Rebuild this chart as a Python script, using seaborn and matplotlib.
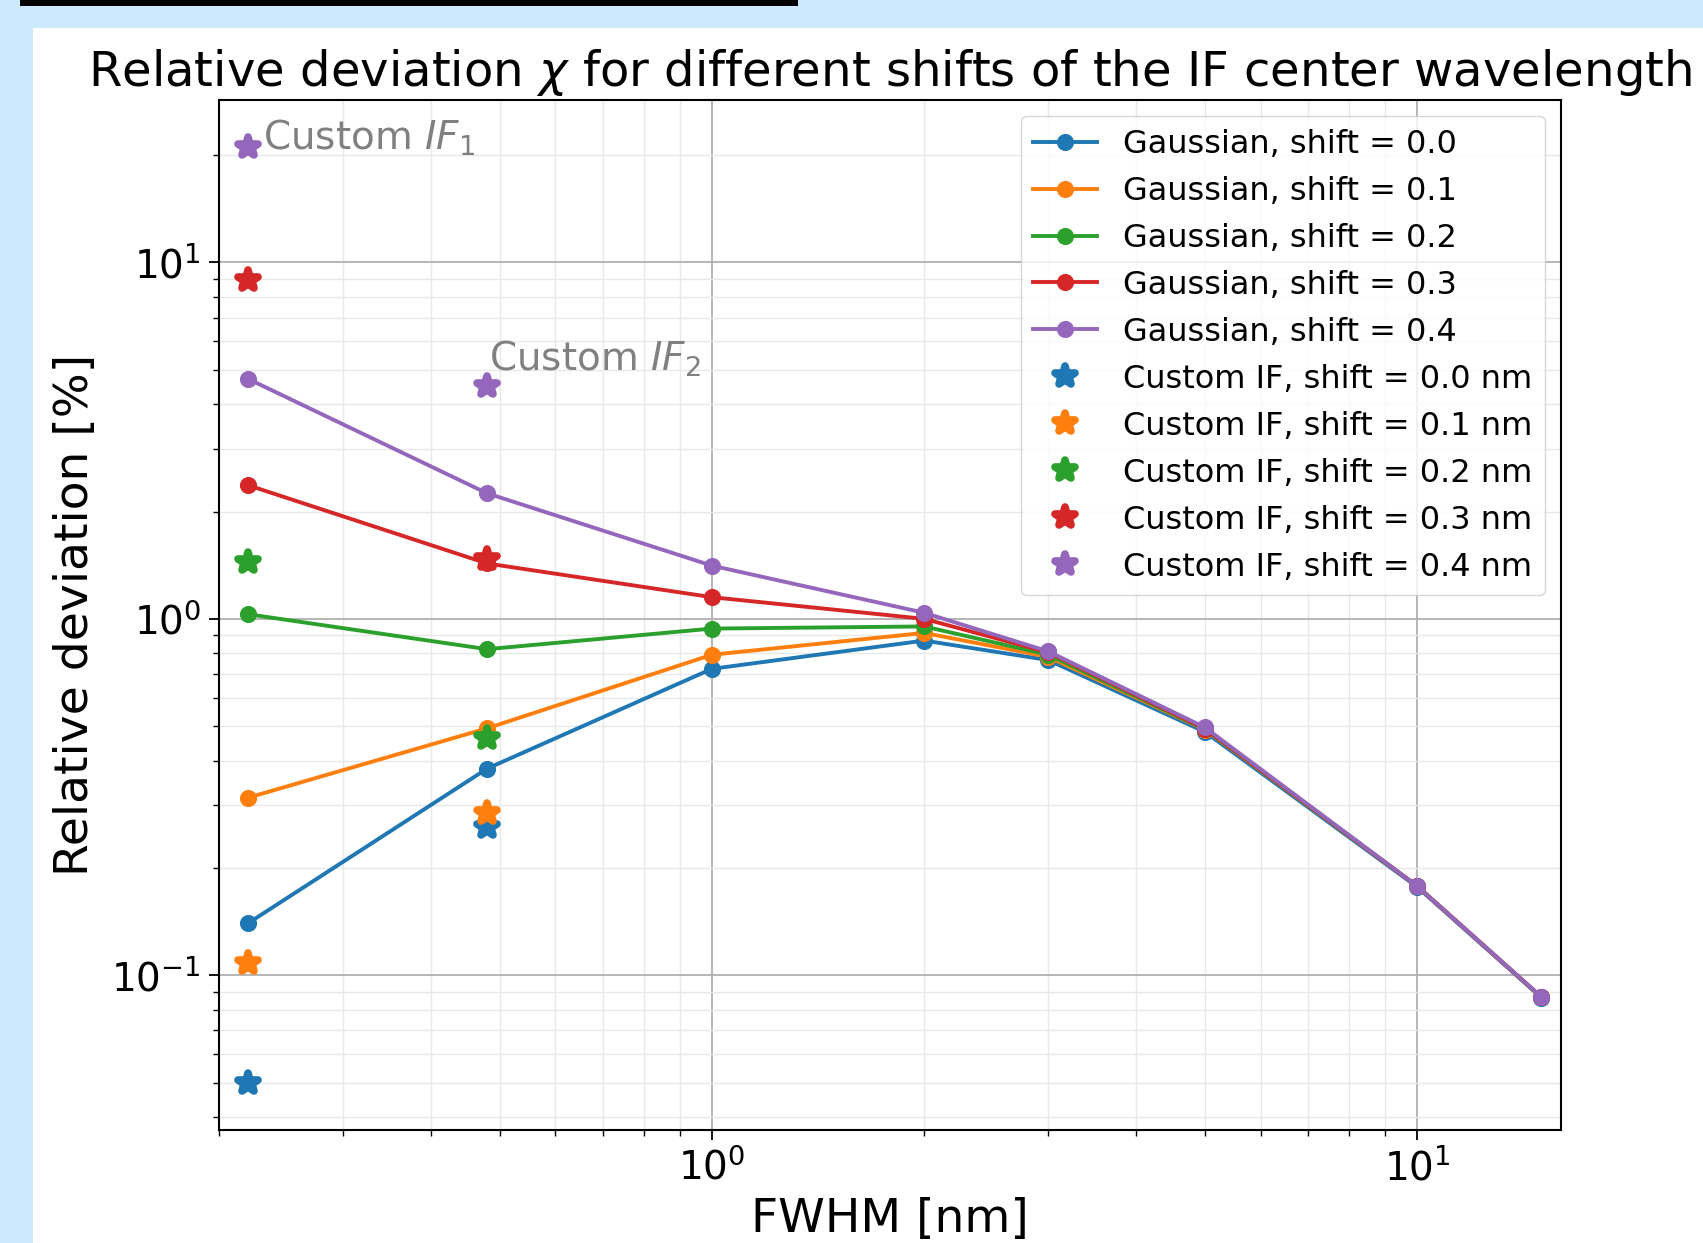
import numpy as np
import pandas as pd
import matplotlib
matplotlib.use("Agg")
import matplotlib.pyplot as plt
from matplotlib.patches import Rectangle
from matplotlib.markers import MarkerStyle
import seaborn as sns

# ---------------- data ----------------
fwhm = [0.22, 0.48, 1.0, 2.0, 3.0, 5.0, 10.0, 15.0]
gauss_shifts = ["0.0", "0.1", "0.2", "0.3", "0.4"]
gauss_00 = [0.140, 0.380, 0.724, 0.869, 0.766, 0.482, 0.177, 0.0866]
gauss_01 = [0.315, 0.493, 0.793, 0.913, 0.782, 0.489, 0.178, 0.0868]
gauss_02 = [1.03, 0.822, 0.939, 0.952, 0.793, 0.490, 0.178, 0.0869]
gauss_03 = [2.37, 1.43, 1.15, 1.00, 0.805, 0.492, 0.178, 0.0870]
gauss_04 = [4.71, 2.25, 1.41, 1.04, 0.810, 0.496, 0.178, 0.0870]

custom_fwhm = [0.22, 0.48]
custom_00 = [0.0498, 0.260]
custom_01 = [0.108, 0.285]
custom_02 = [1.44, 0.463]
custom_03 = [8.9, 1.47]
custom_04 = [21.1, 4.51]

annot_labels = ["Custom $IF_1$", "Custom $IF_2$"]

gauss_vals = [gauss_00, gauss_01, gauss_02, gauss_03, gauss_04]
custom_vals = [custom_00, custom_01, custom_02, custom_03, custom_04]

# ---------------- figure ----------------
W, H = 1703, 1243
fig = plt.figure(figsize=(W / 100, H / 100), dpi=100)
fig.patch.set_facecolor("#cdeafd")
fig.patches.append(Rectangle((33 / W, 0), 1 - 33 / W, (H - 28) / H,
                             transform=fig.transFigure, facecolor="white",
                             edgecolor="none", zorder=0))
fig.patches.append(Rectangle((20 / W, 1 - 6 / H), 778 / W, 6 / H,
                             transform=fig.transFigure, facecolor="black",
                             edgecolor="none", zorder=0))

ax = fig.add_axes([219 / W, 1 - 1130 / H, (1561 - 219) / W, (1130 - 100) / H])
ax.set_zorder(5)
ax.set_facecolor("white")

palette = sns.color_palette("tab10", 5)

for i, (s, vals) in enumerate(zip(gauss_shifts, gauss_vals)):
    df = pd.DataFrame({"fwhm": fwhm, "dev": vals})
    sns.lineplot(data=df, x="fwhm", y="dev", ax=ax, color=palette[i],
                 marker="o", markersize=11.5, markeredgewidth=0.8,
                 markeredgecolor=palette[i], linewidth=2.8,
                 label=f"Gaussian, shift = {s}", zorder=3)

star = MarkerStyle("*", joinstyle="round")
for i, (s, vals) in enumerate(zip(gauss_shifts, custom_vals)):
    df = pd.DataFrame({"fwhm": custom_fwhm, "dev": vals})
    sns.lineplot(data=df, x="fwhm", y="dev", ax=ax, color=palette[i],
                 marker=star, linestyle="", markersize=15,
                 markeredgewidth=5.5, markeredgecolor=palette[i],
                 label=f"Custom IF, shift = {s} nm", zorder=4)

ax.set_xscale("log")
ax.set_yscale("log")
ax.set_xlim(0.2, 16)

ax.grid(which="major", color="#b0b0b0", linewidth=1.3)
ax.grid(which="minor", color="#e8e8e8", linewidth=1.0)
ax.set_axisbelow(True)

for sp in ax.spines.values():
    sp.set_color("black")
    sp.set_linewidth(1.5)
ax.tick_params(which="major", direction="out", length=7, width=1.3,
               labelsize=28, pad=6, colors="black")
ax.tick_params(which="minor", direction="out", length=4, width=1.0)

ax.set_xlabel("FWHM [nm]", fontsize=34, labelpad=7)
ax.set_ylabel("Relative deviation [%]", fontsize=34, labelpad=10)
ax.set_title("Relative deviation $\\chi$ for different shifts of the IF center wavelength",
             fontsize=34.7, pad=10)

# annotations next to the top custom points
ax.annotate(annot_labels[0], xy=(custom_fwhm[0], custom_04[0]),
            xytext=(11, -2), textcoords="offset points", fontsize=28,
            color="gray", va="baseline", ha="left")
ax.annotate(annot_labels[1], xy=(custom_fwhm[1], custom_04[1]),
            xytext=(1, 11), textcoords="offset points", fontsize=28,
            color="gray", va="baseline", ha="left")

leg = ax.legend(loc="upper right", fontsize=23, frameon=True, fancybox=True,
                framealpha=0.8, edgecolor="#cccccc")

fig.savefig("out.png", dpi=100, facecolor=fig.get_facecolor())
